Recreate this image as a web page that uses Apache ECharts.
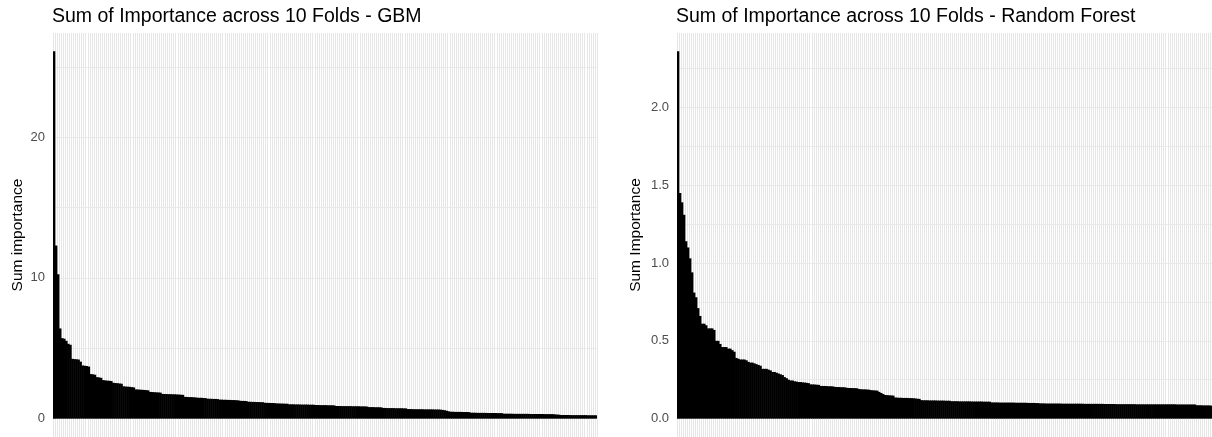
<!DOCTYPE html>
<html>
<head>
<meta charset="utf-8">
<script src="https://cdn.jsdelivr.net/npm/echarts@6/dist/echarts.min.js"></script>
<style>
html,body{margin:0;padding:0;background:#fff;}
#chart{width:1212px;height:437px;}
</style>
</head>
<body>
<div id="chart"></div>
<script>
// Sum of importance per feature (sorted, descending)
const gbmValues = [
26.1,12.3,10.26,6.41,5.72,5.68,5.53,5.32,5.25,4.25,
4.23,4.22,4.2,4.05,3.78,3.76,3.74,3.7,3.17,3.15,
3.12,2.95,2.93,2.9,2.74,2.72,2.7,2.69,2.67,2.55,
2.53,2.52,2.5,2.48,2.3,2.28,2.27,2.26,2.24,2.22,
2.08,2.07,2.06,2.05,2.04,2.03,2.01,1.9,1.89,1.88,
1.87,1.86,1.85,1.76,1.75,1.75,1.74,1.74,1.73,1.73,
1.72,1.71,1.7,1.69,1.55,1.54,1.53,1.53,1.52,1.51,
1.49,1.48,1.48,1.47,1.46,1.42,1.41,1.41,1.4,1.4,
1.39,1.35,1.35,1.34,1.34,1.33,1.33,1.32,1.32,1.31,
1.3,1.27,1.26,1.26,1.25,1.2,1.2,1.19,1.19,1.18,
1.18,1.17,1.17,1.13,1.12,1.12,1.11,1.11,1.1,1.08,
1.08,1.07,1.07,1.06,1.06,1.02,
1.02,1.02,1.01,1.01,1.01,1.0,1.0,1.0,1.0,0.99,0.99,0.99,
0.97,0.97,0.96,0.96,0.96,0.96,0.95,0.95,0.95,0.94,
0.9,0.9,0.9,0.89,0.89,0.89,0.89,0.89,0.88,0.88,0.88,0.88,0.87,0.87,0.87,0.86,
0.82,0.82,0.82,0.81,0.81,0.81,0.8,
0.76,0.76,0.75,0.75,0.75,0.75,0.74,0.74,0.74,0.74,0.73,0.73,
0.68,0.68,0.68,0.67,0.67,0.67,0.67,0.67,0.66,0.66,0.66,0.66,0.66,0.65,0.65,0.65,0.64,0.62,
0.6,0.56,0.52,
0.49,0.49,0.48,0.48,0.48,0.48,0.47,0.47,0.47,0.46,
0.42,0.42,0.42,0.41,0.41,0.41,0.41,0.41,0.4,0.4,0.4,0.4,0.4,0.39,0.39,0.39,
0.35,0.35,0.35,0.35,0.35,0.34,0.34,0.34,0.34,0.34,0.34,0.34,0.34,0.33,0.33,0.33,0.33,0.33,0.33,0.33,0.32,0.32,0.32,0.32,0.32,
0.3,0.29,0.28,
0.26,0.26,0.26,0.26,0.26,0.25,0.25,0.25,0.25,0.25,0.25,0.25,0.25,0.24,0.24,0.24,0.24,0.24
];

const rfValues = [
2.36,1.45,1.39,1.31,1.14,1.1,1.03,0.94,0.81,0.78,
0.71,0.66,0.61,0.61,0.6,0.58,0.58,0.58,0.57,0.5,
0.5,0.48,0.46,0.46,0.46,0.45,0.45,0.44,0.43,0.39,
0.385,0.38,0.38,0.38,0.375,0.365,0.36,0.36,0.355,0.35,
0.345,0.34,0.32,0.32,0.32,0.315,0.31,0.3,0.3,0.295,
0.29,0.285,0.28,0.267,0.26,0.25,0.245,0.245,0.24,0.238,
0.235,0.235,0.233,0.232,0.23,0.228,
0.22,0.22,0.219,0.218,0.217,
0.21,0.21,0.21,0.209,0.208,0.208,0.207,
0.204,0.203,0.203,0.202,0.202,0.201,
0.198,0.197,0.197,0.196,0.196,0.195,
0.19,0.189,0.188,0.188,0.187,0.186,
0.183,0.182,0.181,0.18,
0.172,0.165,0.158,
0.152,0.151,0.15,0.149,0.148,
0.136,0.135,0.134,0.134,0.133,0.133,0.133,0.132,0.132,0.131,0.13,
0.128,0.127,
0.119,0.118,0.118,0.118,0.117,0.117,0.117,0.117,0.116,0.116,0.116,0.116,0.115,0.115,0.115,
0.112,0.112,0.112,0.112,0.111,0.111,0.111,0.111,0.111,0.111,0.11,0.11,0.11,0.11,0.11,0.11,0.109,0.109,0.109,0.109,
0.104,0.104,0.104,0.104,0.103,0.103,0.103,0.103,0.103,0.103,0.103,0.103,0.102,0.102,0.102,0.102,0.102,0.102,0.101,0.101,0.101,0.101,0.1,0.1,
0.098,0.098,0.098,0.097,0.097,0.097,0.097,0.097,0.097,0.097,0.097,0.096,0.096,0.096,0.096,0.096,0.096,0.096,0.096,0.096,0.096,0.096,0.095,0.095,0.095,0.095,0.095,0.095,0.095,0.095,0.095,0.095,0.094,0.094,0.094,0.094,0.094,0.094,
0.093,0.093,0.093,0.093,0.093,0.093,0.093,0.093,0.093,0.093,
0.092,0.092,0.092,0.092,0.092,0.092,0.092,0.092,0.092,0.092,
0.092,0.092,0.092,0.092,0.092,0.092,0.092,0.092,0.092,0.092,
0.091,0.091,0.091,0.091,0.091,0.091,0.091,0.091,0.091,0.091,
0.086,0.086,0.086,0.085,0.085,0.085,0.085,0.084
];

const gbmCategories = gbmValues.map((v, i) => 'feature_' + (i + 1));
const rfCategories = rfValues.map((v, i) => 'feature_' + (i + 1));

const gbmMinorTicks = [0, 5, 10, 15, 20, 25];
const gbmLabels = [0, 10, 20];
const rfMinorTicks = [0, 0.25, 0.5, 0.75, 1.0, 1.25, 1.5, 1.75, 2.0, 2.25];
const rfLabels = [0, 0.5, 1.0, 1.5, 2.0];

const titles = ['Sum of Importance across 10 Folds - GBM', 'Sum of Importance across 10 Folds - Random Forest'];
const yNames = ['Sum importance', 'Sum Importance'];

const FONT = '"Liberation Sans", Arial, sans-serif';
const gbmMax = Math.max(...gbmValues);
const rfMax = Math.max(...rfValues);

function xAx(gi, cats) {
  return {
    type: 'category', gridIndex: gi, data: cats, boundaryGap: true, z: 0,
    axisLine: {show: false}, axisTick: {show: false}, axisLabel: {show: false},
    splitLine: {show: true, interval: 0, lineStyle: {color: '#e6e6e6', width: 1}}
  };
}
function yAx(gi, mx, ticks, labels, name, gap, digits) {
  return {
    type: 'value', gridIndex: gi, min: -0.05 * mx, max: 1.05 * mx, z: 0,
    name: name, nameLocation: 'middle', nameGap: gap, nameRotate: 90,
    nameTextStyle: {color: '#000', fontSize: 15.5, fontFamily: FONT},
    axisLine: {show: false},
    axisTick: {show: false, customValues: ticks},
    axisLabel: {customValues: labels, color: '#4d4d4d', fontSize: 13, fontFamily: FONT, margin: 8,
      formatter: v => digits ? Number(v).toFixed(digits) : String(Math.round(v))},
    splitLine: {show: true, lineStyle: {color: '#ebebeb', width: 1}}
  };
}

const barStyle = {color: '#000000'};

const chart = echarts.init(document.getElementById('chart'), null, {renderer: 'canvas'});
chart.setOption({
  backgroundColor: '#ffffff',
  animation: false,
  title: [
    {text: titles[0], left: 52, top: 7, padding: 0, textStyle: {color: '#000', fontSize: 19.5, fontWeight: 'normal', fontFamily: FONT}},
    {text: titles[1], left: 676, top: 7, padding: 0, textStyle: {color: '#000', fontSize: 19.5, fontWeight: 'normal', fontFamily: FONT}}
  ],
  grid: [
    {left: 53, top: 33, width: 544, height: 405, containLabel: false},
    {left: 677, top: 33, width: 535, height: 405, containLabel: false}
  ],
  xAxis: [xAx(0, gbmCategories), xAx(1, rfCategories)],
  yAxis: [
    yAx(0, gbmMax, gbmMinorTicks, gbmLabels, yNames[0], 27, 0),
    yAx(1, rfMax, rfMinorTicks, rfLabels, yNames[1], 33, 1)
  ],
  series: [
    {type: 'bar', xAxisIndex: 0, yAxisIndex: 0, data: gbmValues, barWidth: 2.6, z: 10,
     itemStyle: barStyle, silent: true},
    {type: 'bar', xAxisIndex: 1, yAxisIndex: 1, data: rfValues, barWidth: 2.6, z: 10,
     itemStyle: barStyle, silent: true}
  ]
});
</script>
</body>
</html>
